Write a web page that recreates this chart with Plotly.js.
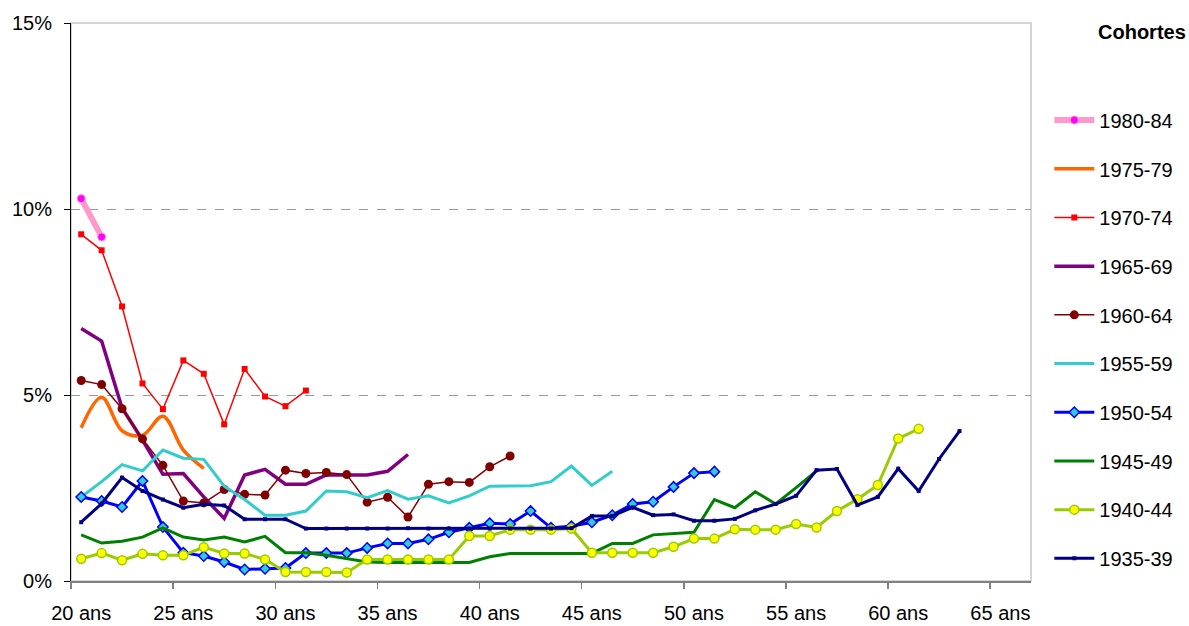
<!DOCTYPE html>
<html>
<head>
<meta charset="utf-8">
<script src="https://cdn.plot.ly/plotly-3.0.1.min.js"></script>
<style>
  html, body { margin: 0; padding: 0; background: #fff; }
  #chart { width: 1189px; height: 626px; }
</style>
</head>
<body>
<div id="chart"></div>
<script>
// Categories: ages (years)
const ages = [20,21,22,23,24,25,26,27,28,29,30,31,32,33,34,35,36,37,38,39,40,41,42,43,44,45,46,47,48,49,50,51,52,53,54,55,56,57,58,59,60,61,62,63,64,65,66];
const ageTickVals = [20,25,30,35,40,45,50,55,60,65];
const ageTickText = ["20 ans","25 ans","30 ans","35 ans","40 ans","45 ans","50 ans","55 ans","60 ans","65 ans"];
const pctTickVals = [0,5,10,15];
const pctTickText = ["0%","5%","10%","15%"];

// Series values (%), each starting at age 20
const c1980_84 = [10.28, 9.25];
const c1975_79 = [4.12, 4.94, 4.04, 3.92, 4.43, 3.52, 3.03];
const c1970_74 = [9.32, 8.89, 7.38, 5.31, 4.62, 5.93, 5.57, 4.21, 5.70, 4.96, 4.70, 5.12];
const c1965_69 = [6.79, 6.45, 4.65, 3.79, 2.87, 2.89, 2.26, 1.68, 2.85, 3.00, 2.60, 2.60, 2.85, 2.85, 2.85, 2.95, 3.40];
const c1960_64 = [5.39, 5.28, 4.63, 3.82, 3.11, 2.15, 2.10, 2.46, 2.33, 2.31, 2.98, 2.89, 2.92, 2.86, 2.12, 2.25, 1.72, 2.60, 2.67, 2.65, 3.07, 3.36];
const c1955_59 = [2.26, 2.67, 3.13, 2.96, 3.52, 3.30, 3.27, 2.55, 2.19, 1.77, 1.77, 1.88, 2.42, 2.40, 2.24, 2.43, 2.20, 2.29, 2.10, 2.29, 2.55, 2.56, 2.56, 2.67, 3.09, 2.57, 2.95];
const c1950_54 = [2.26, 2.15, 1.99, 2.69, 1.45, 0.76, 0.67, 0.51, 0.31, 0.33, 0.35, 0.75, 0.75, 0.75, 0.89, 1.01, 1.01, 1.12, 1.31, 1.43, 1.55, 1.53, 1.88, 1.43, 1.47, 1.58, 1.77, 2.07, 2.13, 2.53, 2.90, 2.94];
const c1945_49 = [1.24, 1.02, 1.07, 1.18, 1.43, 1.18, 1.10, 1.18, 1.05, 1.20, 0.76, 0.76, 0.69, 0.60, 0.51, 0.50, 0.50, 0.50, 0.50, 0.50, 0.65, 0.74, 0.74, 0.74, 0.74, 0.74, 1.01, 1.01, 1.24, 1.28, 1.31, 2.19, 1.97, 2.40, 2.07, 2.51, 2.96];
const c1940_44 = [0.60, 0.75, 0.56, 0.73, 0.69, 0.69, 0.91, 0.74, 0.74, 0.58, 0.24, 0.24, 0.24, 0.23, 0.58, 0.58, 0.58, 0.58, 0.58, 1.21, 1.21, 1.38, 1.38, 1.38, 1.41, 0.76, 0.76, 0.76, 0.76, 0.92, 1.14, 1.14, 1.39, 1.38, 1.38, 1.53, 1.44, 1.88, 2.20, 2.58, 3.83, 4.09];
const c1935_39 = [1.58, 2.08, 2.78, 2.42, 2.19, 1.97, 2.06, 2.03, 1.66, 1.66, 1.66, 1.41, 1.41, 1.41, 1.41, 1.41, 1.42, 1.41, 1.41, 1.41, 1.41, 1.41, 1.41, 1.41, 1.42, 1.75, 1.75, 1.98, 1.77, 1.79, 1.62, 1.62, 1.67, 1.90, 2.07, 2.29, 2.98, 3.01, 2.04, 2.26, 3.02, 2.42, 3.28, 4.03];

const FONT = "Liberation Sans, Arial, sans-serif";

function tr(name, vals, line, marker) {
  const t = {
    type: "scatter",
    name: name,
    legendgroup: name,
    x: ages.slice(0, vals.length),
    y: vals,
    mode: marker ? "lines+markers" : "lines",
    line: line,
    hoverinfo: "x+y+name"
  };
  if (marker) t.marker = marker;
  return t;
}

const data = [
  tr("1980-84", c1980_84, {color: "#FF99CC", width: 6}, {symbol: "circle", size: 8, color: "#FF00FF", line: {color: "#FF99CC", width: 1}}),
  tr("1975-79", c1975_79, {color: "#FF6600", width: 3.5, shape: "spline", smoothing: 1}),
  tr("1970-74", c1970_74, {color: "#FF0000", width: 1.5}, {symbol: "square", size: 6, color: "#FF0000"}),
  tr("1965-69", c1965_69, {color: "#800080", width: 3.5}),
  tr("1960-64", c1960_64, {color: "#800000", width: 1.5}, {symbol: "circle", size: 9, color: "#800000"}),
  tr("1955-59", c1955_59, {color: "#33CCCC", width: 3}),
  tr("1950-54", c1950_54, {color: "#0000FF", width: 3}, {symbol: "diamond", size: 8, color: "#33CCCC", line: {color: "#0000FF", width: 1.5}}),
  tr("1945-49", c1945_49, {color: "#008000", width: 3}),
  tr("1940-44", c1940_44, {color: "#99CC00", width: 3}, {symbol: "circle", size: 9, color: "#FFFF00", line: {color: "#99CC00", width: 1.5}}),
  tr("1935-39", c1935_39, {color: "#000080", width: 3}, {symbol: "square", size: 4, color: "#000080"})
];

const layout = {
  width: 1189,
  height: 626,
  margin: {l: 71, r: 157.3, t: 23.3, b: 45.3, pad: 0},
  paper_bgcolor: "#ffffff",
  plot_bgcolor: "#ffffff",
  font: {family: FONT, size: 20, color: "#000000"},
  showlegend: true,
  xaxis: {
    range: [ages[0] - 0.5, ages[ages.length - 1] + 0.5],
    tickmode: "array",
    tickvals: ageTickVals,
    ticktext: ageTickText,
    ticks: "",
    ticklabelstandoff: 13,
    showgrid: false,
    zeroline: false,
    showline: true,
    linecolor: "#808080",
    linewidth: 1.5,
    tickfont: {family: FONT, size: 20, color: "#000"},
    minor: {
      tickmode: "array",
      tickvals: ageTickVals.map(v => v - 0.5),
      ticks: "outside",
      ticklen: 6,
      tickwidth: 1.5,
      tickcolor: "#808080",
      showgrid: false
    },
    fixedrange: true
  },
  yaxis: {
    range: [0, 15],
    tickmode: "array",
    tickvals: pctTickVals,
    ticktext: pctTickText,
    ticks: "outside",
    ticklen: 6,
    tickwidth: 1,
    tickcolor: "#000000",
    ticklabelstandoff: 8,
    showgrid: true,
    gridcolor: "#999999",
    griddash: "dash",
    gridwidth: 1,
    zeroline: false,
    showline: true,
    linecolor: "#000000",
    linewidth: 1,
    tickfont: {family: FONT, size: 20, color: "#000"},
    fixedrange: true
  },
  shapes: [
    {type: "rect", xref: "paper", yref: "paper", x0: 0, x1: 1, y0: 0, y1: 1,
     line: {color: "#c8c8c8", width: 1.5}, fillcolor: "rgba(0,0,0,0)", layer: "below"}
  ],
  legend: {
    x: 1.018,
    xanchor: "left",
    y: 0.861,
    yanchor: "top",
    bgcolor: "rgba(0,0,0,0)",
    borderwidth: 0,
    font: {family: FONT, size: 20, color: "#000"},
    tracegroupgap: 19.7,
    itemwidth: 40,
    itemclick: false,
    itemdoubleclick: false
  },
  annotations: [
    {text: "<b>Cohortes</b>", xref: "paper", yref: "paper", x: 1.116, y: 0.983,
     xanchor: "center", yanchor: "middle", showarrow: false,
     font: {family: FONT, size: 20, color: "#000"}}
  ]
};

Plotly.newPlot("chart", data, layout, {displayModeBar: false, staticPlot: true});
</script>
</body>
</html>
